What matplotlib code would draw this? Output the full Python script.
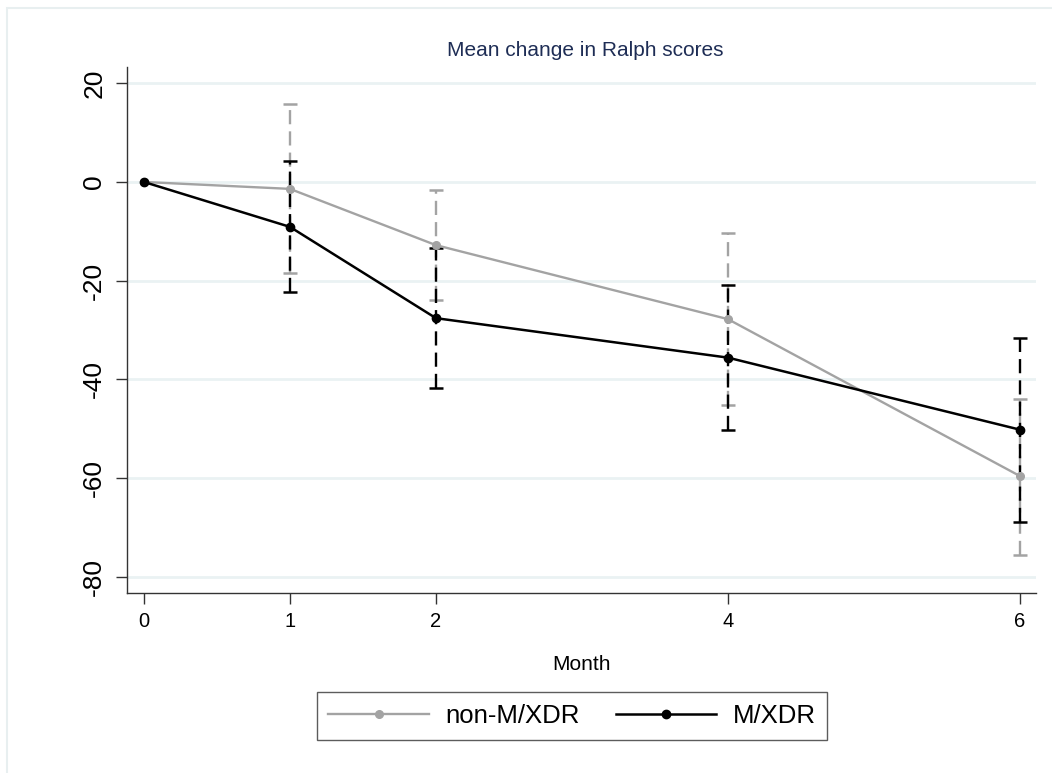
import matplotlib
matplotlib.use("Agg")
import matplotlib.pyplot as plt
from matplotlib.patches import Rectangle
import numpy as np

plt.rcParams['font.family'] = ['Liberation Sans', 'DejaVu Sans']

months = [0, 1, 2, 4, 6]
non_mxdr_mean = [0, -1.4, -12.8, -27.8, -59.6]
non_mxdr_hi = [0, 15.8, -1.7, -10.4, -44.0]
non_mxdr_lo = [0, -18.4, -24.0, -45.2, -75.7]
mxdr_mean = [0, -9.1, -27.6, -35.6, -50.2]
mxdr_hi = [0, 4.3, -13.4, -20.9, -31.7]
mxdr_lo = [0, -22.3, -41.7, -50.3, -69.0]
yticks = [20, 0, -20, -40, -60, -80]

W, H = 1052, 773
fig = plt.figure(figsize=(W / 100, H / 100), dpi=100)
fig.patches.append(Rectangle((7 / W, -0.1), 1.2, 1 - 8 / H + 0.1, transform=fig.transFigure,
                             facecolor='none', edgecolor='#e8eff0', lw=1.5))

left, right, top, bottom = 127, 1036, 67, 593
ax = fig.add_axes([left / W, 1 - bottom / H, (right - left) / W, (bottom - top) / H])

gray = '#a3a3a3'
black = '#000000'

def draw_bars(lo, hi, color):
    for m, l, h in zip(months[1:], lo[1:], hi[1:]):
        ax.plot([m, m], [l, h], color=color, lw=1.7, ls=(0, (6, 3)), zorder=3)
        ax.plot([m], [l], marker='_', ms=10, mew=1.8, color=color, zorder=3)
        ax.plot([m], [h], marker='_', ms=10, mew=1.8, color=color, zorder=3)

draw_bars(non_mxdr_lo, non_mxdr_hi, gray)
draw_bars(mxdr_lo, mxdr_hi, black)

ax.plot(months, non_mxdr_mean, color=gray, lw=1.7, marker='o', ms=5.5, zorder=4, label='non-M/XDR')
ax.plot(months, mxdr_mean, color=black, lw=1.8, marker='o', ms=6, zorder=5, label='M/XDR')

ax.set_xlim(-0.116, 6.11)
ax.set_ylim(-83.3, 23.3)
ax.set_xticks(months)
ax.set_yticks(yticks)
ax.set_xticklabels([str(m) for m in months], fontsize=14.5)
ax.set_yticklabels([str(v) for v in yticks], fontsize=19, rotation=90, va='center')
ax.tick_params(axis='both', length=8, width=1, color='#333333', direction='out')
ax.tick_params(axis='y', pad=7)
ax.tick_params(axis='x', pad=6)
for s in ['top', 'right']:
    ax.spines[s].set_visible(False)
for s in ['left', 'bottom']:
    ax.spines[s].set_color('#333333')
    ax.spines[s].set_linewidth(1.0)
ax.grid(axis='y', color='#eaf2f3', lw=2)
ax.set_axisbelow(True)

fig.text(585.5 / W, 1 - 51 / H, 'Mean change in Ralph scores', ha='center', va='center',
         fontsize=15, color='#1e2d55')
fig.text(582 / W, 1 - 665 / H, 'Month', ha='center', va='center', fontsize=15)

leg = fig.legend(loc='center', bbox_to_anchor=(572 / W, 1 - 716 / H), ncol=2, fontsize=18.5,
                 frameon=True, fancybox=False, edgecolor='#333333', handlelength=3.9,
                 handletextpad=0.65, columnspacing=1.4, borderpad=0.45, borderaxespad=0)
leg.get_frame().set_linewidth(1.0)

fig.savefig('out.png', dpi=100)
